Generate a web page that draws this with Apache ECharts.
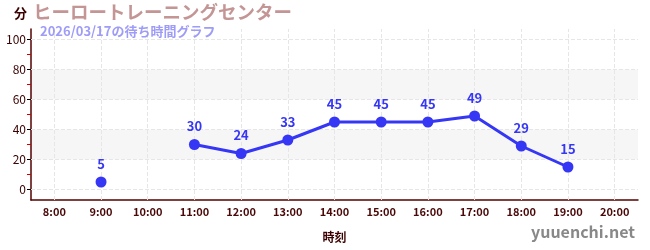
<!DOCTYPE html>
<html><head><meta charset="utf-8">
<script src="https://cdn.jsdelivr.net/npm/echarts@6/dist/echarts.min.js"></script>
<style>html,body{margin:0;padding:0;background:#fff}#c{width:650px;height:250px}</style>
</head><body><div id="c"></div>
<script>
const categories = ['8:00','9:00','10:00','11:00','12:00','13:00','14:00','15:00','16:00','17:00','18:00','19:00','20:00'];
const waitTimes = [null,5,null,30,24,33,45,45,45,49,29,15,null];
const yTickLabels = [0,20,40,60,80,100];
const yMinorTicks = [10,30,50,70,90];
const bands = [[20,40],[60,80]];
const titleText = 'ヒーロートレーニングセンター';
const subText = '2026/03/17の待ち時間グラフ';
const yName = '分';
const xName = '時刻';
const watermark = 'yuuenchi.net';

const font = '"Noto Sans CJK JP", "Noto Sans", sans-serif';
const axisColor = '#550000';
const gridLine = {type:'dashed',color:'#e6e6e6',width:1};
const chart = echarts.init(document.getElementById('c'));
chart.setOption({
  animation:false,
  textStyle:{fontFamily:font},
  title:[
    {text:titleText,left:33,top:3,padding:0,textStyle:{fontFamily:font,fontSize:18.5,fontWeight:'bold',color:'#c49595'}},
    {text:subText,left:40,top:25,padding:0,textStyle:{fontFamily:font,fontSize:13,fontWeight:'bold',color:'#9e9cf7'}},
    {text:yName,left:14,top:7,padding:0,textStyle:{fontFamily:font,fontSize:13,fontWeight:'bold',color:'#3a0000'}},
    {text:watermark,right:15,top:224,padding:0,textStyle:{fontFamily:font,fontSize:16,fontWeight:'bold',color:'#888'}}
  ],
  grid:{left:31,right:12,top:29,bottom:50,containLabel:false},
  xAxis:{type:'category',data:categories,boundaryGap:true,
    name:xName,nameLocation:'middle',nameGap:31,
    nameTextStyle:{color:'#3a0000',fontWeight:'bold',fontSize:12},
    axisLine:{onZero:false,lineStyle:{color:axisColor,width:1.5}},
    axisTick:{alignWithLabel:true,length:4,lineStyle:{color:'#888'}},
    axisLabel:{color:'#4a0808',fontSize:11,fontWeight:'bold',margin:6},
    splitLine:{show:false}
  },
  yAxis:[
    {type:'value',min:-7,max:107,
      axisLine:{show:true,onZero:false,lineStyle:{color:axisColor,width:1.5}},
      axisTick:{show:true,length:4,customValues:yTickLabels,lineStyle:{color:'#000'}},
      axisLabel:{color:'#3a0000',fontSize:12,margin:5,customValues:yTickLabels},
      splitLine:{show:false}
    },
    {type:'value',min:-7,max:107,position:'left',offset:0,
      axisLine:{show:false},
      axisTick:{show:true,length:4,customValues:yMinorTicks,lineStyle:{color:'#d00000'}},
      axisLabel:{show:false},splitLine:{show:false}
    }
  ],
  series:[{
    type:'line',data:waitTimes,connectNulls:false,
    symbol:'circle',symbolSize:11,
    itemStyle:{color:'#3636f5'},
    lineStyle:{color:'#3636f5',width:3},
    label:{show:true,position:'top',distance:6,color:'#3636f5',fontWeight:'bold',fontSize:13},
    markArea:{silent:true,itemStyle:{color:'rgba(0,0,0,0.035)'},
      data:bands.map(b=>[{yAxis:b[0]},{yAxis:b[1]}])},
    markLine:{silent:true,symbol:'none',label:{show:false},lineStyle:gridLine,
      data:yTickLabels.map(v=>({yAxis:v})).concat(categories.map(c=>({xAxis:c})))},
    z:5
  }]
});
</script></body></html>
